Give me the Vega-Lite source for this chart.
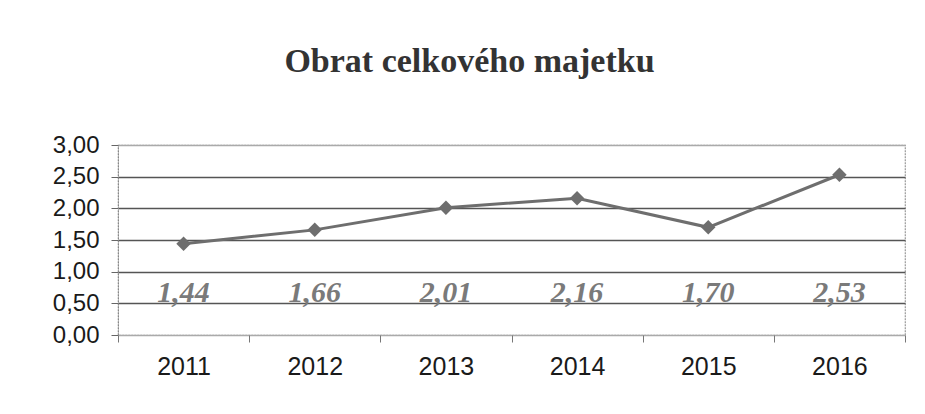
{
  "$schema": "https://vega.github.io/schema/vega-lite/v6.json",
  "width": 787,
  "height": 190,
  "autosize": {"type": "none"},
  "padding": {"left": 118, "top": 145, "right": 20, "bottom": 79},
  "background": "white",
  "title": {
    "text": "Obrat celkového majetku",
    "font": "Liberation Serif",
    "fontSize": 34,
    "fontWeight": "bold",
    "color": "#333333",
    "anchor": "middle",
    "dx": -42,
    "offset": 54
  },
  "config": {
    "locale": {"number": {"decimal": ",", "thousands": " ", "grouping": [3], "currency": ["", ""]}},
    "view": {"stroke": "#9a9a9a", "strokeWidth": 1.2, "strokeDash": [2, 1]},
    "axisY": {
      "values": [0, 0.5, 1, 1.5, 2, 2.5, 3],
      "tickCount": 7,
      "format": ".2f",
      "labelOverlap": false,
      "labelFont": "Liberation Sans",
      "labelFontSize": 24,
      "labelColor": "#1a1a1a",
      "labelPadding": 12,
      "tickSize": 7,
      "tickColor": "#666666",
      "domainColor": "#888888",
      "domainDash": [2, 1],
      "grid": true,
      "gridWidth": 1.5
    }
  },
  "data": {
    "values": [
      {"rok": "2011", "hodnota": 1.44},
      {"rok": "2012", "hodnota": 1.66},
      {"rok": "2013", "hodnota": 2.01},
      {"rok": "2014", "hodnota": 2.16},
      {"rok": "2015", "hodnota": 1.70},
      {"rok": "2016", "hodnota": 2.53}
    ]
  },
  "encoding": {
    "x": {
      "field": "rok",
      "type": "ordinal",
      "scale": {"type": "band", "paddingInner": 0, "paddingOuter": 0},
      "axis": {
        "title": null,
        "labelAngle": 0,
        "labelFont": "Liberation Sans",
        "labelFontSize": 25,
        "labelColor": "#1a1a1a",
        "labelPadding": 12,
        "tickBand": "extent",
        "tickSize": 7,
        "tickColor": "#777777",
        "domain": false,
        "grid": false
      }
    },
    "y": {
      "field": "hodnota",
      "type": "quantitative",
      "scale": {"domain": [0, 3], "nice": false},
      "axis": {
        "title": null,
        "values": [0, 0.5, 1, 1.5, 2, 2.5, 3],
        "gridColor": {"condition": {"test": "datum.value == 0 || datum.value == 3", "value": "#aaaaaa"}, "value": "#555555"}
      }
    }
  },
  "layer": [
    {
      "mark": {"type": "line", "color": "#6e6e6e", "strokeWidth": 3}
    },
    {
      "mark": {"type": "point", "shape": "diamond", "filled": true, "color": "#6e6e6e", "size": 210, "opacity": 1}
    },
    {
      "mark": {
        "type": "text",
        "font": "Liberation Serif",
        "fontSize": 30,
        "fontStyle": "italic",
        "fontWeight": "bold",
        "color": "#7a7a7a",
        "baseline": "alphabetic",
        "dy": -1
      },
      "encoding": {
        "y": {"datum": 0.5},
        "text": {"field": "hodnota", "type": "quantitative", "format": ".2f"}
      }
    }
  ]
}
